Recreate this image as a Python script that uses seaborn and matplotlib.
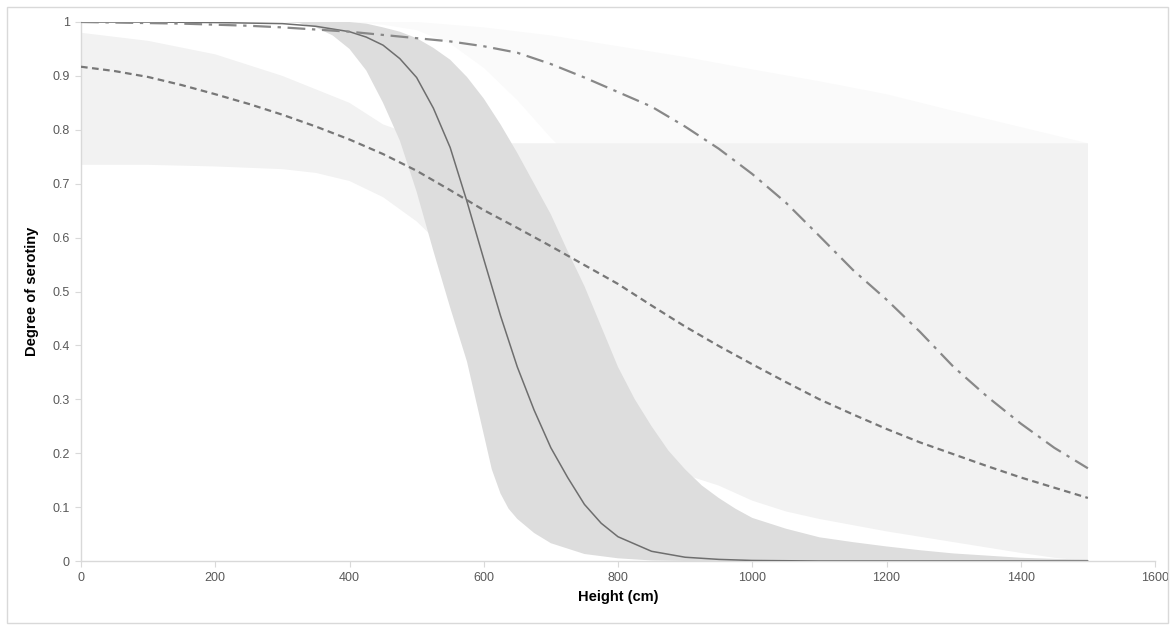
import numpy as np
import pandas as pd
import matplotlib
matplotlib.use("Agg")
import matplotlib.pyplot as plt
import seaborn as sns
from matplotlib.patches import Rectangle

# ---- data ----
# solid curve
solid_x = [0, 100, 200, 300, 350, 400, 425, 450, 475, 500, 525, 550, 575, 600, 625, 650, 675, 700,
           725, 750, 775, 800, 850, 900, 950, 1000, 1100, 1200, 1300, 1400, 1500]
solid_y = [1.0, 1.0, 0.999, 0.997, 0.992, 0.982, 0.972, 0.957, 0.932, 0.897, 0.84, 0.767, 0.667, 0.56,
           0.455, 0.36, 0.28, 0.21, 0.155, 0.105, 0.07, 0.045, 0.018, 0.007, 0.003, 0.001, 0.0, 0.0,
           0.0, 0.0, 0.0]

# dashed and dash-dot curves
curve_x = [0, 50, 100, 150, 200, 250, 300, 350, 400, 450, 500, 550, 600, 650, 700, 750, 800, 850,
           900, 950, 1000, 1050, 1100, 1150, 1200, 1250, 1300, 1350, 1400, 1450, 1500]
dashed_y = [0.917, 0.909, 0.898, 0.883, 0.866, 0.848, 0.828, 0.806, 0.782, 0.755, 0.724, 0.688,
            0.651, 0.618, 0.584, 0.549, 0.514, 0.474, 0.435, 0.399, 0.365, 0.332, 0.30, 0.272,
            0.245, 0.22, 0.198, 0.176, 0.155, 0.136, 0.117]
dashdot_y = [1.0, 0.999, 0.998, 0.997, 0.995, 0.993, 0.99, 0.986, 0.982, 0.976, 0.97, 0.964, 0.955,
             0.943, 0.922, 0.897, 0.87, 0.843, 0.806, 0.765, 0.718, 0.665, 0.603, 0.54, 0.485, 0.425,
             0.36, 0.305, 0.255, 0.21, 0.172]

# band around the solid curve
bandA_low_x = [0, 300, 325, 350, 375, 400, 425, 450, 475, 500, 525, 550, 575, 600, 612, 625, 637,
               650, 675, 700, 750, 800, 850, 900, 1500]
bandA_low_y = [1.0, 1.0, 0.998, 0.99, 0.975, 0.95, 0.91, 0.85, 0.78, 0.685, 0.575, 0.47, 0.37, 0.235,
               0.17, 0.125, 0.097, 0.078, 0.052, 0.033, 0.013, 0.005, 0.001, 0.0, 0.0]
bandA_high_x = [0, 350, 400, 425, 450, 475, 500, 525, 550, 575, 600, 625, 650, 675, 700, 725, 750,
                775, 800, 825, 850, 875, 900, 925, 950, 975, 1000, 1050, 1100, 1150, 1200, 1250,
                1300, 1350, 1400, 1450, 1500]
bandA_high_y = [1.0, 1.0, 1.0, 0.997, 0.99, 0.982, 0.97, 0.952, 0.93, 0.898, 0.858, 0.81, 0.757, 0.70,
                0.643, 0.575, 0.51, 0.435, 0.36, 0.30, 0.25, 0.205, 0.17, 0.14, 0.117, 0.097, 0.08,
                0.06, 0.044, 0.035, 0.027, 0.02, 0.014, 0.01, 0.006, 0.004, 0.003]

# band around the dashed curve
bandB_low_x = [0, 100, 200, 300, 350, 400, 450, 500, 550, 600, 650, 700, 750, 800, 850, 900, 950,
               1000, 1050, 1100, 1200, 1300, 1400, 1450, 1500]
bandB_low_y = [0.735, 0.735, 0.732, 0.727, 0.72, 0.705, 0.675, 0.63, 0.57, 0.53, 0.49, 0.43, 0.36,
               0.29, 0.22, 0.16, 0.14, 0.112, 0.092, 0.078, 0.055, 0.035, 0.015, 0.006, 0.0]
bandB_high_x = [0, 100, 200, 300, 400, 450, 500, 550, 600, 1500]
bandB_high_y = [0.98, 0.965, 0.94, 0.90, 0.85, 0.81, 0.788, 0.778, 0.775, 0.775]

# band around the dash-dot curve
bandC_low_x = [0, 400, 450, 500, 550, 600, 650, 700, 800, 900, 1000, 1100, 1200, 1300, 1400, 1500]
bandC_low_y = [1.0, 1.0, 0.995, 0.985, 0.96, 0.915, 0.855, 0.785, 0.66, 0.52, 0.38, 0.25, 0.15,
               0.08, 0.04, 0.02]
bandC_high_x = [0, 500, 600, 700, 800, 900, 1000, 1100, 1200, 1300, 1400, 1500]
bandC_high_y = [1.0, 1.0, 0.99, 0.975, 0.955, 0.935, 0.912, 0.89, 0.866, 0.835, 0.805, 0.775]

x_ticks = [0, 200, 400, 600, 800, 1000, 1200, 1400, 1600]
y_ticks = [0, 0.1, 0.2, 0.3, 0.4, 0.5, 0.6, 0.7, 0.8, 0.9, 1.0]
y_tick_labels = ["0", "0.1", "0.2", "0.3", "0.4", "0.5", "0.6", "0.7", "0.8", "0.9", "1"]

# ---- figure ----
sns.set_theme(style="white")
plt.rcParams['font.family'] = ['Liberation Sans', 'DejaVu Sans']

fig = plt.figure(figsize=(11.75, 6.26), dpi=100)
ax = fig.add_axes([81 / 1175, 1 - 561 / 626, (1155 - 81) / 1175, (561 - 22) / 626])


def band(xl, yl, xh, yh, color, z):
    ax.fill(list(xl) + list(xh)[::-1], list(yl) + list(yh)[::-1],
            color=color, lw=0, zorder=z)


band(bandC_low_x, bandC_low_y, bandC_high_x, bandC_high_y, "#fafafa", 1)
band(bandB_low_x, bandB_low_y, bandB_high_x, bandB_high_y, "#f2f2f2", 2)
band(bandA_low_x, bandA_low_y, bandA_high_x, bandA_high_y, "#dddddd", 3)

df_solid = pd.DataFrame({"Height": solid_x, "Serotiny": solid_y})
df_curves = pd.DataFrame({"Height": curve_x, "dashed": dashed_y, "dashdot": dashdot_y})

sns.lineplot(data=df_solid, x="Height", y="Serotiny", ax=ax, color="#6e6e6e", lw=1.1, zorder=5)
sns.lineplot(data=df_curves, x="Height", y="dashed", ax=ax, color="#777777", lw=1.6, zorder=5,
             linestyle=(0, (3, 2)))
sns.lineplot(data=df_curves, x="Height", y="dashdot", ax=ax, color="#888888", lw=1.6, zorder=5,
             linestyle=(0, (8, 3, 1.5, 3)))

ax.set_xlim(0, 1600)
ax.set_ylim(0, 1)
ax.set_xticks(x_ticks)
ax.set_yticks(y_ticks)
ax.set_yticklabels(y_tick_labels)

for s in ["top", "right"]:
    ax.spines[s].set_visible(False)
for s in ["left", "bottom"]:
    ax.spines[s].set_color("#d9d9d9")
    ax.spines[s].set_linewidth(1.0)

ax.tick_params(axis="both", which="major", length=4, width=0.8, color="#d9d9d9",
               labelcolor="#595959", labelsize=9, direction="out", left=True, bottom=True, pad=4)

ax.set_xlabel("Height (cm)", fontsize=10.5, fontweight="bold", color="#000000", labelpad=4)
ax.set_ylabel("Degree of serotiny", fontsize=10.5, fontweight="bold", color="#000000", labelpad=10)

fig.patches.append(Rectangle((7 / 1175, 0.005), 1 - 14 / 1175, 1 - 7 / 626 - 0.005,
                             transform=fig.transFigure, fill=False, edgecolor="#d9d9d9", lw=1))

fig.savefig("out.png", dpi=100, facecolor="white")
